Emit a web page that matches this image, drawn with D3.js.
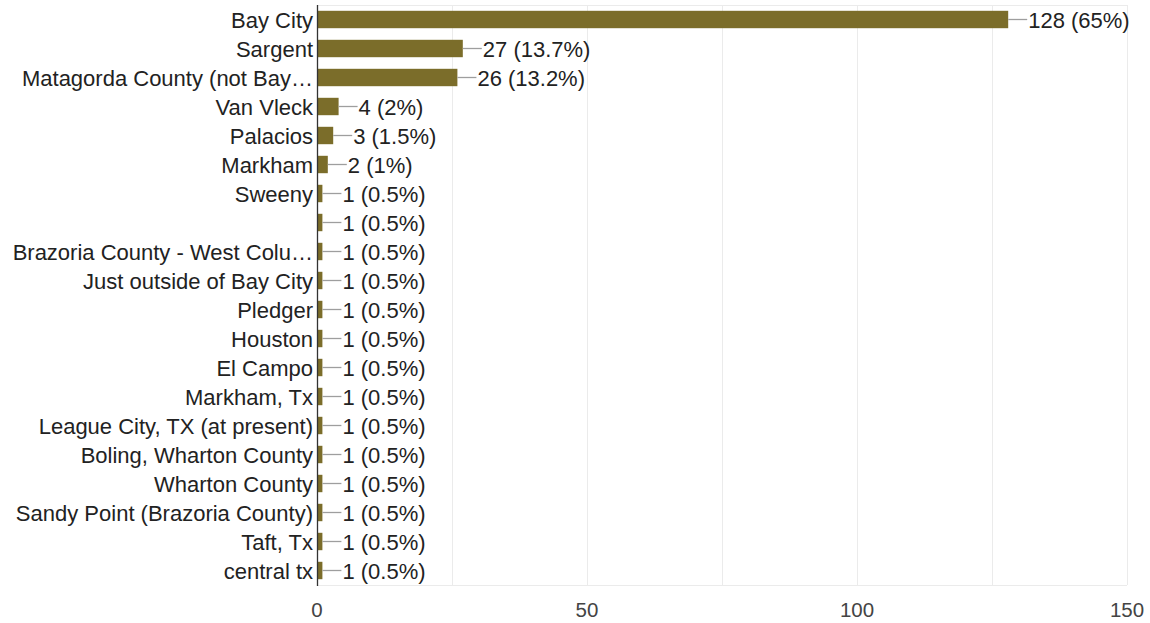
<!DOCTYPE html>
<html><head><meta charset="utf-8">
<script src="https://cdn.jsdelivr.net/npm/d3@7"></script>
<style>body{margin:0;background:#fff;}svg{display:block;}</style>
</head><body>
<svg id="chart" width="1150" height="623"></svg>
<script>
const categories = ["Bay City","Sargent","Matagorda County (not Bay…","Van Vleck","Palacios","Markham","Sweeny","","Brazoria County - West Colu…","Just outside of Bay City","Pledger","Houston","El Campo","Markham, Tx","League City, TX (at present)","Boling, Wharton County","Wharton County","Sandy Point (Brazoria County)","Taft, Tx","central tx"];
const counts = [128,27,26,4,3,2,1,1,1,1,1,1,1,1,1,1,1,1,1,1];
const percents = ["65%","13.7%","13.2%","2%","1.5%","1%","0.5%","0.5%","0.5%","0.5%","0.5%","0.5%","0.5%","0.5%","0.5%","0.5%","0.5%","0.5%","0.5%","0.5%"];
const xTicks = [0,50,100,150];
const gridTicks = [0,25,50,75,100,125,150];

(function(){
const svg = d3.select("#chart");
const mLeft = 317, mRight = 1127, mTop = 5, mBottom = 585;
const font = "'Liberation Sans', Arial, sans-serif";
const x = d3.scaleLinear().domain([0,150]).range([mLeft,mRight]);
const y = d3.scaleBand().domain(d3.range(categories.length)).range([mTop,mBottom]).paddingInner(0.4).paddingOuter(0.2);

svg.append("g").selectAll("line").data(gridTicks).join("line")
  .attr("x1",d=>x(d)+0.5).attr("x2",d=>x(d)+0.5).attr("y1",mTop).attr("y2",mBottom)
  .attr("stroke","#ebebeb").attr("stroke-width",1);
svg.append("line").attr("x1",mLeft).attr("x2",mRight).attr("y1",mTop+0.5).attr("y2",mTop+0.5).attr("stroke","#ebebeb");
svg.append("line").attr("x1",mLeft).attr("x2",mRight).attr("y1",mBottom+0.5).attr("y2",mBottom+0.5).attr("stroke","#ebebeb");

const rows = svg.append("g").selectAll("g").data(counts).join("g");
rows.append("rect")
  .attr("x",x(0)).attr("y",(d,i)=>y(i))
  .attr("width",d=>x(d)-x(0)).attr("height",y.bandwidth())
  .attr("fill","#7b6d2a");
rows.append("line")
  .attr("x1",d=>x(d)).attr("x2",d=>x(d)+19)
  .attr("y1",(d,i)=>y(i)+y.bandwidth()/2).attr("y2",(d,i)=>y(i)+y.bandwidth()/2)
  .attr("stroke","#9e9e9e").attr("stroke-width",1.3);
rows.append("text")
  .attr("x",d=>x(d)+20).attr("y",(d,i)=>y(i)+y.bandwidth()/2)
  .attr("dy","0.37em").attr("font-family",font).attr("font-size",22).attr("fill","#222")
  .text((d,i)=>`${d} (${percents[i]})`);

svg.append("g").selectAll("text").data(categories).join("text")
  .attr("x",mLeft-4).attr("y",(d,i)=>y(i)+y.bandwidth()/2).attr("dy","0.37em")
  .attr("text-anchor","end").attr("font-family",font).attr("font-size",22).attr("fill","#222")
  .text(d=>d);

svg.append("line").attr("x1",mLeft+0.5).attr("x2",mLeft+0.5).attr("y1",mTop).attr("y2",mBottom+1)
  .attr("stroke","#333").attr("stroke-width",1.3);

svg.append("g").selectAll("text").data(xTicks).join("text")
  .attr("x",d=>x(d)).attr("y",617).attr("text-anchor","middle")
  .attr("font-family",font).attr("font-size",20.5).attr("fill","#444")
  .text(d=>d);
})();
</script>
</body></html>
